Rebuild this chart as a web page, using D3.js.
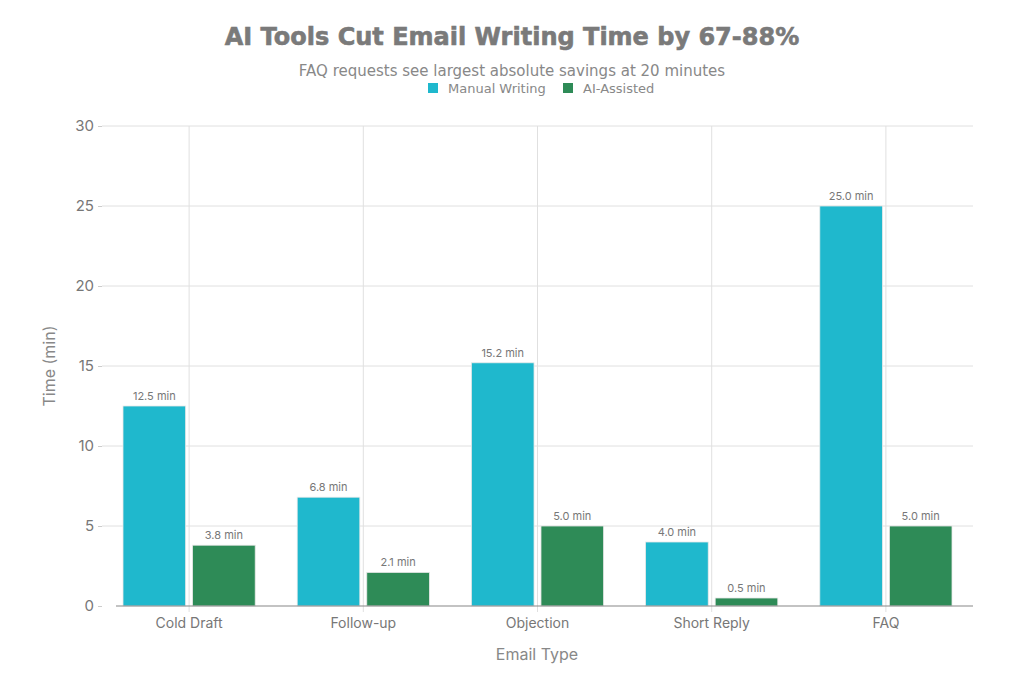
<!DOCTYPE html>
<html><head><meta charset="utf-8">
<script src="https://cdn.jsdelivr.net/npm/d3@7"></script>
<style>body{margin:0;background:#fff}svg{display:block}</style>
</head><body><svg id="c" width="1024" height="683"></svg>
<script>
const categories = ["Cold Draft","Follow-up","Objection","Short Reply","FAQ"];
const seriesNames = ["Manual Writing","AI-Assisted"];
const manual = [12.5, 6.8, 15.2, 4.0, 25.0];
const aiAssisted = [3.8, 2.1, 5.0, 0.5, 5.0];
const yTicks = [0,5,10,15,20,25,30];
const colors = ["#1FB8CD","#2E8B57"];

const svg = d3.select("#c");
const L=102, R=973, T=126, B=606;
const font = "Inter, 'Liberation Sans', sans-serif";
const x = d3.scaleBand().domain(categories).range([L,R]);
const x1 = d3.scaleBand().domain(seriesNames).range([21, x.bandwidth()-21]).paddingInner(0.1);
const y = d3.scaleLinear().domain([0,30]).range([B,T]);

// grid
svg.append("g").selectAll("line").data(yTicks.slice(1)).join("line")
  .attr("x1",L).attr("x2",R).attr("y1",d=>y(d)).attr("y2",d=>y(d))
  .attr("stroke","#e0e0e0").attr("stroke-width",1);
svg.append("g").selectAll("line").data(categories).join("line")
  .attr("x1",d=>x(d)+x.bandwidth()/2).attr("x2",d=>x(d)+x.bandwidth()/2)
  .attr("y1",T).attr("y2",B+6).attr("stroke","#e0e0e0").attr("stroke-width",1);

// y axis
const ya = svg.append("g").attr("transform",`translate(${L},0)`)
  .call(d3.axisLeft(y).tickValues(yTicks).tickSize(4).tickPadding(4));
ya.select(".domain").remove();
ya.selectAll(".tick line").attr("stroke","#ccc");
ya.selectAll("text").attr("fill","#777").style("font-family",font).style("font-size","15px");

const data = categories.map((c,i)=>({c, vals:[{s:seriesNames[0],v:manual[i]},{s:seriesNames[1],v:aiAssisted[i]}]}));
const g = svg.append("g").selectAll("g").data(data).join("g").attr("transform",d=>`translate(${x(d.c)},0)`);
g.selectAll("rect").data(d=>d.vals).join("rect")
  .attr("x",d=>x1(d.s)).attr("width",x1.bandwidth())
  .attr("y",d=>y(d.v)).attr("height",d=>B-y(d.v))
  .attr("fill",(d,i)=>colors[i]).attr("stroke","#e8e8e8").attr("stroke-width",0.8);
g.selectAll("text").data(d=>d.vals).join("text")
  .attr("x",d=>x1(d.s)+x1.bandwidth()/2).attr("y",d=>y(d.v)-6)
  .attr("text-anchor","middle").attr("fill","#777").style("font-family",font).style("font-size","11px")
  .text(d=>d.v.toFixed(1)+" min");

// x axis
svg.append("line").attr("x1",L+14).attr("x2",R).attr("y1",B).attr("y2",B).attr("stroke","#888").attr("stroke-width",1.2);
svg.append("g").selectAll("text").data(categories).join("text")
  .attr("x",d=>x(d)+x.bandwidth()/2).attr("y",628).attr("text-anchor","middle")
  .attr("fill","#777").style("font-family",font).style("font-size","14px").text(d=>d);

// axis titles
svg.append("text").attr("x",537).attr("y",660).attr("text-anchor","middle").attr("fill","#888")
  .style("font-family",font).style("font-size","16px").text("Email Type");
svg.append("text").attr("transform","translate(55,366) rotate(-90)").attr("text-anchor","middle").attr("fill","#888")
  .style("font-family",font).style("font-size","16px").text("Time (min)");

// title
svg.append("text").attr("x",512).attr("y",45).attr("text-anchor","middle").attr("fill","#7a7a7a")
  .style("font-family","'DejaVu Sans', sans-serif").style("font-weight","bold").style("font-size","24px")
  .style("stroke","#7a7a7a").style("stroke-width","0.6px")
  .text("AI Tools Cut Email Writing Time by 67-88%");
svg.append("text").attr("x",512).attr("y",76).attr("text-anchor","middle").attr("fill","#888")
  .style("font-family","'DejaVu Sans', sans-serif").style("font-size","15px")
  .text("FAQ requests see largest absolute savings at 20 minutes");

// legend
const leg = svg.append("g");
const legX = [428, 563];
seriesNames.forEach((s,i)=>{
  leg.append("rect").attr("x",legX[i]).attr("y",83).attr("width",10).attr("height",10).attr("fill",colors[i]);
  leg.append("text").attr("x",legX[i]+20).attr("y",93).attr("fill","#888")
    .style("font-family","'DejaVu Sans', sans-serif").style("font-size","13px").text(s);
});
</script></body></html>
